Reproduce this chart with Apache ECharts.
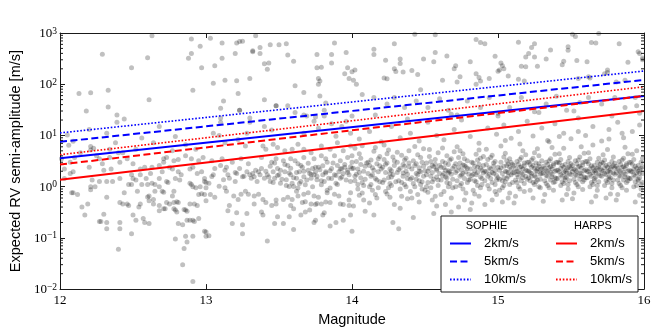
<!DOCTYPE html>
<html>
<head>
<meta charset="utf-8">
<script src="https://cdn.jsdelivr.net/npm/echarts@6/dist/echarts.min.js"></script>
<style>html,body{margin:0;padding:0;background:#fff}#c{width:664px;height:332px}</style>
</head>
<body>
<div id="c"></div>
<script>
// ---------- data ----------
const xTicks = [12, 13, 14, 15, 16];
const lineMags = [12, 16];
const sophie2 = [3.6, 59];
const sophie5 = [7.5, 121];
const sophie10 = [11.2, 181];
const harps2 = [1.37, 30];
const harps5 = [2.7, 59];
const harps10 = [4.2, 89];
const legendLabels = {S2:'2km/s', S5:'5km/s', S10:'10km/s', H2:'2km/s', H5:'5km/s', H10:'10km/s'};

const starsHigh = [[12.63,880],[12.29,385],[12.60,330],[12.49,210],[12.13,66],[12.21,68],[12.33,76],[12.18,30],[12.33,36],[12.39,25],[12.44,21],[12.39,18],[12.61,50],[12.90,760],[12.96,550],[12.90,400],[12.88,320],[13.03,790],[12.97,210],[13.06,230],[12.91,76],[13.11,640],[13.11,320],[13.05,105],[13.13,120],[13.21,640],[13.23,680],[13.25,690],[13.20,400],[13.21,117],[13.22,66],[13.12,47],[13.10,34],[13.23,31],[13.30,130],[13.34,880],[13.37,520],[13.32,430],[13.32,450],[13.37,400],[13.44,590],[13.50,590],[13.55,620],[13.40,250],[13.43,260],[13.42,195],[13.40,50],[13.56,370],[13.60,280],[13.61,93],[13.67,69],[13.76,210],[13.79,215],[13.77,130],[13.78,115],[13.77,100],[13.76,380],[13.86,380],[13.86,260],[13.88,640],[13.96,415],[13.95,160],[13.97,210],[13.98,130],[14.0,175],[13.78,59],[13.82,43],[13.81,31],[13.75,23],[13.67,25],[13.48,38],
[14.29,620],[14.15,480],[14.15,380],[14.23,295],[14.33,310],[14.33,255],[14.43,950],[14.57,920],[14.49,310],[14.56,275],[14.57,415],[14.65,355],[14.29,200],[14.30,178],[14.35,173],[14.41,186],[14.45,155],[14.22,132],[14.24,128],[14.47,78],[14.62,120],[14.72,110],[14.74,140],[14.70,200],[14.71,230],[14.85,750],[14.88,650],[14.91,620],[14.81,275],[14.85,160],[14.87,135],[14.88,115],[14.85,100],[14.94,130],[14.98,350],[15.02,260],[15.03,230],[15.04,200],[15.0,180],[15.01,190],[15.07,145],[15.14,660],[15.21,400],[15.23,520],[15.25,620],[15.19,340],[15.25,340],[15.16,225],[15.19,220],[15.27,225],[15.14,125],[15.18,115],[15.36,465],[15.33,310],[15.44,240],[15.45,280],[15.48,540],[15.48,460],[15.53,850],[15.51,950],[15.54,290],[15.55,130],[15.63,132],[15.62,140],[15.64,650],[15.67,640],[15.69,980],[15.61,275],[15.75,190],[15.75,170],[15.73,160],[15.83,620],[15.89,270],[15.96,430],[15.97,400],[15.99,325],[15.99,300],[15.87,120],[15.81,110],[14.02,190],[14.01,120],[14.03,100]];

const starsNearLines = [[13.10,22],[13.10,18],[13.23,31],[13.30,22],[13.30,18],[13.40,15],[13.48,38],[13.56,38],[13.61,28],[13.69,24],[13.74,19],[13.81,24],[13.86,17],[13.93,15],[13.96,19],[14.0,24],[13.05,11],[12.68,15],
[14.07,63],[14.15,55],[14.24,41],[14.29,55],[14.36,35],[14.44,47],[14.52,35],[14.6,52],[14.66,31],[14.72,25],[14.79,47],[14.88,35],[14.94,55],[15.0,27],[15.08,35],[15.16,55],[15.25,29],[15.33,41],[15.4,58],[15.47,31],[15.56,44],[15.62,55],[15.71,41],[15.8,55],[15.87,35],[15.94,55],[15.97,27],
[14.05,8.5],[14.12,12],[14.2,7.5],[14.27,15],[14.33,9.0],[14.4,11],[14.46,7.8],[14.52,18],[14.58,10],[14.63,8.2],[14.7,13],[14.75,20],[14.81,9.5],[14.87,7.0],[14.93,14],[14.99,10.5],[15.04,16],[15.09,8.8],[15.14,12],[15.2,19],[15.24,9.8],[15.3,14],[15.34,8.0],[15.39,17],[15.45,11],[15.5,8.6],[15.55,22],[15.6,10],[15.65,15],[15.71,7.8],[15.76,13],[15.82,18],[15.86,9.0],[15.92,12],[15.97,16],[14.16,25],[14.38,21],[14.68,26],[15.0,24],[15.28,28],[15.52,30],[15.78,24],[15.95,38]];

const stars12 = [[12.21,6.1],[12.23,5.6],[12.21,5.2],[12.06,6.4],[12.34,5.4],[12.40,4.6],[12.43,4.6],[12.46,3.5],[12.10,3.7],[12.07,3.0],[12.20,2.4],[12.29,2.8],[12.30,2.1],[12.35,2.2],[12.03,1.45],[12.07,1.8],[12.09,1.95],[12.22,1.35],[12.21,1.0],[12.24,1.0],[12.27,1.26],[12.32,1.26],[12.36,1.26],[12.41,1.45],[12.49,1.7],[12.50,1.45],[12.49,1.1],[12.52,1.35],[12.55,1.7],[12.59,1.45],[12.62,1.8],[12.63,2.4],[12.68,2.6],[12.71,3.0],[12.73,3.7],[12.71,3.5],[12.70,1.95],[12.68,1.45],[12.73,1.26],[12.74,1.2],[12.70,0.81],[12.71,0.78],[12.78,0.81],[12.77,0.66],[12.73,0.49],[12.72,0.37],[12.68,0.34],[12.64,0.46],[12.61,0.53],[12.55,0.46],[12.54,0.40],[12.57,0.24],[12.58,0.2],[12.61,0.19],[12.52,0.22],[12.50,0.28],[12.47,0.43],[12.46,0.46],[12.43,0.46],[12.41,0.49],[12.49,0.12],[12.41,0.2],[12.41,0.15],[12.32,0.2],[12.32,0.15],[12.27,0.21],[12.28,0.21],[12.30,0.29],[12.19,0.46],[12.15,0.40],[12.17,0.28],[12.32,0.62],[12.08,0.76],[12.09,0.76],[12.12,0.7],[12.21,0.87],[12.40,0.06],[12.79,0.095],[12.86,0.107],[12.87,0.083],[12.85,0.062],[12.84,0.030],[12.91,0.014],[12.91,0.107],[12.99,0.134],[13.0,0.107],[12.81,0.19],[12.84,0.18],[12.87,0.22],[12.89,0.22],[12.91,0.22],[12.92,0.21],[12.95,0.24],[12.79,0.35],[12.80,0.32],[12.78,0.37],[12.85,0.36],[12.87,0.33],[12.86,0.35],[12.78,0.49],[12.80,0.51],[12.81,0.49],[12.75,0.46],[12.71,0.37],[12.68,0.43],[12.89,0.46],[12.92,0.46],[12.94,0.43],[12.95,0.7],[12.97,0.73],[12.99,0.7],[12.91,1.0],[12.93,0.95],[12.96,1.0],[12.89,1.17],[12.90,1.1],[12.99,1.26],[13.0,1.2],[12.99,1.45],[12.94,1.8],[12.97,1.95],[12.89,2.2],[12.91,2.4],[12.95,3.2],[12.90,3.5],[12.86,4.0],[12.81,3.4],[12.78,3.2],[12.75,2.4],[12.77,2.2],[12.81,1.95],[12.83,1.7],[12.79,1.45],[12.82,1.35],[12.63,1.17],[12.65,1.1],[12.56,1.1],[12.60,1.1],[12.47,1.1],[12.44,0.76],[12.53,0.81],[12.60,0.63],[12.61,0.66],[12.64,0.56],[12.65,0.81],[12.68,1.0],[12.55,2.2],[12.58,2.4],[12.50,2.8],[12.41,3.0],[12.34,3.7],[12.27,3.5],[12.25,4.0],[12.14,4.6],[12.03,2.2],[12.01,3.5],[12.05,10.2],[12.09,7.7],[12.20,13],[12.32,11],[12.56,8.9],[12.64,7.2],[12.79,9.5],[12.86,6.6],[12.93,5.4],[12.77,5.0],[12.52,5.4],[12.38,7.2],[12.98,3.7]];

const stars13 = [[13.42,0.087],[13.25,0.12],[13.02,0.11],[13.0,0.13],[13.6,0.145],[14.0,0.134],[13.85,0.17],[13.18,0.19],[13.25,0.18],[13.47,0.19],[13.53,0.19],[13.57,0.26],[13.49,0.26],[13.39,0.28],[13.38,0.32],[13.28,0.3],[13.15,0.34],[13.16,0.43],[13.21,0.31],[13.74,0.2],[13.75,0.22],[13.8,0.28],[13.81,0.31],[13.89,0.2],[13.94,0.22],[13.99,0.28],[13.68,0.32],[13.71,0.35],[13.65,0.28],[13.58,0.43],[13.6,0.37],[13.66,0.49],[13.68,0.51],[13.72,0.46],[13.75,0.45],[13.76,0.47],[13.79,0.46],[13.82,0.5],[13.85,0.49],[13.92,0.46],[13.94,0.45],[13.98,0.43],[13.0,0.53],[13.06,0.62],[13.0,0.95],[13.03,0.7],[13.04,1.58],[13.02,1.17],[13.09,1.02],[13.13,0.95],[13.14,0.81],[13.19,0.66],[13.22,0.56],[13.24,0.71],[13.27,0.81],[13.29,0.71],[13.33,0.66],[13.36,0.71],[13.39,0.56],[13.33,0.46],[13.41,0.49],[13.45,0.43],[13.48,0.46],[13.48,0.55],[13.53,0.56],[13.56,0.62],[13.59,0.56],[13.63,0.66],[13.62,0.81],[13.67,0.71],[13.7,0.76],[13.74,0.66],[13.77,0.62],[13.83,0.76],[13.88,0.71],[13.91,0.66],[13.98,0.55],[13.99,0.76],
[13.06,2.25],[13.1,2.6],[13.13,2.1],[13.15,1.7],[13.12,1.36],[13.16,1.46],[13.2,1.26],[13.21,1.8],[13.23,2.25],[13.25,1.57],[13.28,1.95],[13.3,1.7],[13.31,1.46],[13.32,1.8],[13.33,1.57],[13.35,1.26],[13.36,1.95],[13.37,1.7],[13.38,2.25],[13.4,1.46],[13.42,1.7],[13.44,1.26],[13.46,1.95],[13.47,1.46],[13.49,2.25],[13.5,1.7],[13.51,1.17],[13.54,1.95],[13.55,1.36],[13.56,2.6],[13.57,1.01],[13.58,1.7],[13.59,1.17],[13.6,1.01],[13.62,1.46],[13.63,0.94],[13.64,1.95],[13.65,1.26],[13.66,2.4],[13.67,1.57],[13.68,1.09],[13.7,2.1],[13.71,1.8],[13.72,1.46],[13.73,2.25],[13.74,1.7],[13.75,1.95],[13.76,1.36],[13.77,2.4],[13.79,1.09],[13.8,1.7],[13.81,1.26],[13.82,1.95],[13.83,3.0],[13.84,1.46],[13.85,0.94],[13.86,2.25],[13.88,1.7],[13.89,1.17],[13.9,2.6],[13.91,1.95],[13.92,1.46],[13.93,2.25],[13.94,1.8],[13.95,2.4],[13.97,2.1],[13.98,1.7],[13.99,1.26],[14.0,3.0],[14.0,2.25],
[13.04,3.2],[13.11,3.5],[13.18,3.0],[13.24,3.5],[13.29,2.8],[13.38,3.7],[13.45,3.0],[13.48,3.5],[13.53,3.2],[13.58,3.5],[13.63,2.8],[13.67,3.7],[13.74,3.5],[13.79,4.0],[13.82,3.5],[13.88,4.0],[13.92,3.2],[13.97,3.7],[14.0,4.0],
[13.27,6.2],[13.39,6.2],[13.41,5.4],[13.46,6.7],[13.49,5.8],[13.54,5.0],[13.59,5.4],[13.63,6.7],[13.67,5.4],[13.72,4.6],[13.79,6.2],[13.85,5.4],[13.9,7.2],[13.94,5.0],[13.99,6.2],
[13.09,10],[13.13,7.2],[13.22,8.3],[13.28,11],[13.45,12.8],[13.67,11],[13.77,13.8],[13.89,9.6],[13.99,11],
[13.41,2.0],[13.43,1.55],[13.44,2.5],[13.46,1.2],[13.47,2.9],[13.49,1.65],[13.51,2.1],[13.52,1.4],[13.54,2.7],[13.55,1.05],[13.57,1.85],[13.58,2.3],[13.6,1.5],[13.61,3.2],[13.62,1.9],[13.64,1.15],[13.65,2.6],[13.67,2.0],[13.69,1.35],[13.7,2.85],[13.72,1.75],[13.73,1.0],[13.75,2.4],[13.76,1.6],[13.78,2.15],[13.79,1.3],[13.8,2.55],[13.82,1.85],[13.83,0.85],[13.85,2.05],[13.86,1.45],[13.87,2.9],[13.89,1.65],[13.9,1.1],[13.92,2.2],[13.93,1.55],[13.95,2.7],[13.96,1.35],[13.97,1.9],[13.99,2.45],[13.2,1.9],[13.14,2.4],[13.26,1.6],[13.34,2.1],[13.05,1.7]];

const stars14 = [[14.01,2.3],[14.02,1.6],[14.03,3.1],[14.04,0.9],[14.05,1.9],[14.05,4.4],[14.06,2.7],[14.07,1.2],[14.08,0.55],[14.08,2.0],[14.09,1.4],[14.02,5.6],[14.04,1.1],[14.06,3.6],[14.07,0.75],[14.09,2.5],[14.03,1.75],[14.08,1.05],[14.01,0.42],[14.06,1.5],[14.1,2.9],[14.04,2.2],[14.07,6.3],[14.09,0.33],[14.02,1.3],[14.05,0.68],
[14.11,1.8],[14.12,2.6],[14.13,1.1],[14.13,3.3],[14.14,0.85],[14.15,2.1],[14.15,4.9],[14.16,1.45],[14.17,2.8],[14.17,0.6],[14.18,1.95],[14.19,1.25],[14.19,3.9],[14.12,0.48],[14.14,2.35],[14.16,5.8],[14.18,0.95],[14.11,3.0],[14.13,1.6],[14.2,2.2],[14.15,0.28],[14.17,1.35],[14.19,2.55],[14.12,1.0],[14.16,0.7],[14.14,1.7],[14.18,3.5],
[14.21,2.4],[14.21,1.2],[14.22,3.4],[14.23,0.8],[14.23,1.9],[14.24,2.9],[14.25,1.5],[14.25,5.2],[14.26,0.62],[14.26,2.2],[14.27,1.05],[14.28,3.8],[14.28,1.7],[14.29,2.6],[14.29,0.45],[14.22,1.35],[14.24,4.4],[14.26,1.8],[14.27,2.05],[14.3,1.25],[14.23,2.75],[14.25,0.95],[14.28,0.2],[14.22,6.5],[14.27,1.55],[14.29,3.2],[14.24,0.72],[14.26,1.15],
[14.31,1.9],[14.31,3.0],[14.32,1.3],[14.33,2.3],[14.33,0.9],[14.34,4.1],[14.35,1.6],[14.35,2.7],[14.36,1.1],[14.37,2.0],[14.37,3.6],[14.38,0.58],[14.38,1.45],[14.39,2.45],[14.39,5.0],[14.32,2.15],[14.34,1.2],[14.36,3.3],[14.38,1.75],[14.4,0.8],[14.33,0.38],[14.35,1.85],[14.37,1.0],[14.39,2.9],[14.31,4.7],[14.34,0.65],[14.36,2.5],[14.4,1.4],[14.32,0.15],
[14.41,2.2],[14.41,1.5],[14.42,3.2],[14.43,1.0],[14.43,2.6],[14.44,1.8],[14.45,0.7],[14.45,4.2],[14.46,1.3],[14.46,2.35],[14.47,1.95],[14.48,3.0],[14.48,0.9],[14.49,1.6],[14.49,5.5],[14.42,1.15],[14.44,2.8],[14.46,0.5],[14.47,3.7],[14.5,2.05],[14.42,0.25],[14.44,1.4],[14.47,1.1],[14.49,2.5],[14.43,6.1],[14.45,1.7],[14.48,1.25],[14.41,0.6],[14.46,2.0],[14.5,0.85],
[14.51,1.7],[14.51,2.9],[14.52,1.2],[14.53,2.3],[14.53,3.9],[14.54,0.95],[14.55,1.9],[14.55,2.6],[14.56,1.4],[14.57,3.4],[14.57,0.65],[14.58,2.1],[14.58,1.55],[14.59,4.6],[14.59,1.05],[14.52,2.0],[14.54,1.6],[14.56,2.45],[14.58,0.42],[14.6,1.8],[14.53,5.3],[14.55,1.25],[14.57,2.75],[14.59,1.35],[14.52,0.78],[14.54,3.1],[14.56,0.3],[14.58,2.2],[14.51,1.0],[14.6,2.6],[14.55,0.55],
[14.61,2.4],[14.61,1.35],[14.62,3.1],[14.63,1.8],[14.63,0.8],[14.64,2.1],[14.65,4.0],[14.65,1.5],[14.66,2.7],[14.67,1.15],[14.67,1.95],[14.68,3.5],[14.68,0.6],[14.69,2.25],[14.69,1.4],[14.62,1.65],[14.64,2.9],[14.66,1.0],[14.68,1.75],[14.7,2.5],[14.62,5.7],[14.64,0.45],[14.66,1.85],[14.67,3.3],[14.69,0.95],[14.63,2.35],[14.65,1.2],[14.7,4.8],[14.61,0.7],[14.66,2.05],[14.68,0.32],[14.64,1.55],
[14.71,1.9],[14.71,2.8],[14.72,1.3],[14.73,2.4],[14.73,3.7],[14.74,1.05],[14.75,1.7],[14.75,2.15],[14.76,4.4],[14.77,1.45],[14.77,2.6],[14.78,0.75],[14.78,1.95],[14.79,3.2],[14.79,1.2],[14.72,2.05],[14.74,1.6],[14.76,0.9],[14.78,2.45],[14.8,1.35],[14.72,6.0],[14.74,2.9],[14.76,1.8],[14.77,0.55],[14.79,2.3],[14.73,0.4],[14.75,1.15],[14.77,3.5],[14.8,1.75],[14.71,1.0],[14.76,2.65],[14.79,0.22],[14.74,5.0],
[14.81,2.2],[14.81,1.4],[14.82,3.0],[14.83,1.75],[14.83,0.85],[14.84,2.5],[14.85,1.25],[14.85,4.3],[14.86,1.9],[14.87,2.75],[14.87,0.65],[14.88,1.55],[14.88,3.6],[14.89,2.1],[14.89,1.1],[14.82,1.65],[14.84,2.05],[14.86,3.3],[14.88,0.95],[14.9,1.85],[14.82,0.48],[14.84,1.3],[14.86,2.4],[14.87,5.2],[14.89,1.45],[14.83,2.9],[14.85,1.7],[14.9,2.6],[14.81,0.36],[14.86,1.05],[14.88,2.3],[14.84,0.72],[14.9,3.9],
[14.91,2.0],[14.91,1.3],[14.92,2.7],[14.93,1.6],[14.93,3.4],[14.94,0.9],[14.95,2.2],[14.95,1.45],[14.96,4.1],[14.97,1.8],[14.97,2.5],[14.98,1.1],[14.98,3.1],[14.99,1.65],[14.99,0.7],[14.92,1.95],[14.94,2.35],[14.96,1.2],[14.98,2.05],[15.0,1.5],[14.92,5.4],[14.94,1.75],[14.96,0.55],[14.97,2.9],[14.99,1.35],[14.93,1.05],[14.95,3.7],[15.0,2.4],[14.91,0.45],[14.96,1.9],[14.98,0.8]];

const stars15 = [[15.01,2.1],[15.01,1.4],[15.02,3.0],[15.03,1.8],[15.03,0.95],[15.04,2.5],[15.05,1.25],[15.05,4.5],[15.06,1.95],[15.07,2.8],[15.07,1.6],[15.08,3.5],[15.08,1.1],[15.09,2.2],[15.09,1.7],[15.02,2.35],[15.04,1.5],[15.06,3.2],[15.08,0.75],[15.1,1.85],[15.02,6.2],[15.04,1.05],[15.06,2.6],[15.07,0.6],[15.09,2.95],[15.03,1.3],[15.05,2.0],[15.1,2.7],[15.01,0.85],[15.06,1.45],[15.08,2.4],[15.04,3.8],[15.1,1.2],[15.03,0.5],[15.07,1.9],[15.05,8.0],
[15.11,1.9],[15.11,2.6],[15.12,1.35],[15.13,3.1],[15.13,2.0],[15.14,1.55],[15.15,2.4],[15.15,0.9],[15.16,3.7],[15.17,1.75],[15.17,2.2],[15.18,1.15],[15.18,2.9],[15.19,1.6],[15.19,4.2],[15.12,2.25],[15.14,1.0],[15.16,1.85],[15.18,2.55],[15.2,1.4],[15.12,0.65],[15.14,2.75],[15.16,1.3],[15.17,5.0],[15.19,2.1],[15.13,1.7],[15.15,3.4],[15.2,2.05],[15.11,0.48],[15.16,2.45],[15.18,0.8],[15.14,1.95],[15.2,3.0],[15.13,1.2],[15.17,1.5],[15.15,6.8],
[15.21,2.0],[15.21,1.5],[15.22,2.7],[15.23,1.8],[15.23,3.3],[15.24,1.2],[15.25,2.3],[15.25,1.65],[15.26,2.9],[15.27,1.95],[15.27,1.35],[15.28,2.5],[15.28,4.0],[15.29,1.75],[15.29,2.15],[15.22,1.9],[15.24,2.6],[15.26,1.55],[15.28,1.0],[15.3,2.2],[15.22,0.85],[15.24,3.6],[15.26,2.05],[15.27,5.5],[15.29,1.4],[15.23,2.4],[15.25,1.1],[15.3,1.8],[15.21,3.0],[15.26,1.25],[15.28,2.8],[15.24,0.6],[15.3,3.2],[15.23,1.6],[15.27,2.25],[15.25,4.6],[15.29,0.95],[15.22,1.3],
[15.31,1.85],[15.31,2.5],[15.32,1.3],[15.33,3.0],[15.33,2.05],[15.34,1.6],[15.35,2.35],[15.35,0.95],[15.36,3.5],[15.37,1.75],[15.37,2.2],[15.38,1.2],[15.38,2.8],[15.39,1.5],[15.39,4.3],[15.32,2.3],[15.34,1.05],[15.36,1.9],[15.38,2.6],[15.4,1.45],[15.32,0.7],[15.34,2.7],[15.36,1.35],[15.37,5.8],[15.39,2.0],[15.33,1.65],[15.35,3.2],[15.4,2.1],[15.31,0.52],[15.36,2.45],[15.38,0.85],[15.34,1.95],[15.4,3.0],[15.33,1.15],[15.37,1.55],[15.35,7.5],[15.39,1.25],
[15.41,2.1],[15.41,1.45],[15.42,2.9],[15.43,1.7],[15.43,3.4],[15.44,1.25],[15.45,2.4],[15.45,1.9],[15.46,2.7],[15.47,1.55],[15.47,2.15],[15.48,3.1],[15.48,1.1],[15.49,1.8],[15.49,2.5],[15.42,1.95],[15.44,2.6],[15.46,1.35],[15.48,0.9],[15.5,2.25],[15.42,4.4],[15.44,1.6],[15.46,2.0],[15.47,0.7],[15.49,3.7],[15.43,2.3],[15.45,1.15],[15.5,1.7],[15.41,3.0],[15.46,1.5],[15.48,2.35],[15.44,0.55],[15.5,2.8],[15.43,1.05],[15.47,1.85],[15.45,5.6],[15.49,1.3],[15.42,9.5],
[15.51,1.95],[15.51,2.6],[15.52,1.4],[15.53,3.2],[15.53,2.1],[15.54,1.65],[15.55,2.45],[15.55,1.0],[15.56,3.8],[15.57,1.8],[15.57,2.3],[15.58,1.25],[15.58,2.95],[15.59,1.55],[15.59,4.5],[15.52,2.2],[15.54,1.1],[15.56,1.85],[15.58,2.65],[15.6,1.5],[15.52,0.75],[15.54,2.8],[15.56,1.4],[15.57,6.0],[15.59,2.05],[15.53,1.7],[15.55,3.3],[15.6,2.15],[15.51,0.58],[15.56,2.5],[15.58,0.88],[15.54,2.0],[15.6,3.1],[15.53,1.2],[15.57,1.6],[15.55,12],[15.59,1.35],
[15.61,2.0],[15.61,1.5],[15.62,2.8],[15.63,1.75],[15.63,3.5],[15.64,1.2],[15.65,2.35],[15.65,1.9],[15.66,2.6],[15.67,1.55],[15.67,2.1],[15.68,3.0],[15.68,1.05],[15.69,1.8],[15.69,2.45],[15.62,1.95],[15.64,2.55],[15.66,1.3],[15.68,0.85],[15.7,2.2],[15.62,4.6],[15.64,1.6],[15.66,2.05],[15.67,0.65],[15.69,3.6],[15.63,2.25],[15.65,1.1],[15.7,1.65],[15.61,3.1],[15.66,1.45],[15.68,2.3],[15.64,0.5],[15.7,2.75],[15.63,1.0],[15.67,1.85],[15.65,6.5],[15.69,1.25],
[15.71,2.1],[15.71,1.6],[15.72,2.9],[15.73,1.8],[15.73,3.3],[15.74,1.3],[15.75,2.4],[15.75,1.95],[15.76,2.7],[15.77,1.5],[15.77,2.2],[15.78,3.1],[15.78,1.15],[15.79,1.85],[15.79,2.55],[15.72,2.0],[15.74,2.6],[15.76,1.4],[15.78,0.95],[15.8,2.3],[15.72,4.2],[15.74,1.7],[15.76,2.05],[15.77,0.72],[15.79,3.8],[15.73,2.35],[15.75,1.2],[15.8,1.75],[15.71,3.0],[15.76,1.55],[15.78,2.45],[15.74,0.6],[15.8,2.85],[15.73,1.05],[15.77,1.9],[15.75,5.3],[15.79,1.35],[15.76,8.5],
[15.81,1.9],[15.81,2.5],[15.82,1.35],[15.83,3.1],[15.83,2.05],[15.84,1.6],[15.85,2.4],[15.85,0.95],[15.86,3.6],[15.87,1.75],[15.87,2.25],[15.88,1.2],[15.88,2.8],[15.89,1.5],[15.89,4.4],[15.82,2.3],[15.84,1.05],[15.86,1.9],[15.88,2.6],[15.9,1.45],[15.82,0.7],[15.84,2.7],[15.86,1.35],[15.87,5.9],[15.89,2.0],[15.83,1.65],[15.85,3.3],[15.9,2.1],[15.81,0.55],[15.86,2.45],[15.88,0.85],[15.84,1.95],[15.9,3.0],[15.83,1.15],[15.87,1.55],[15.85,11],[15.89,1.3],
[15.91,2.0],[15.91,1.45],[15.92,2.75],[15.93,1.7],[15.93,3.4],[15.94,1.25],[15.95,2.3],[15.95,1.85],[15.96,2.6],[15.97,1.5],[15.97,2.15],[15.98,3.0],[15.98,1.1],[15.99,1.8],[15.99,2.45],[15.92,1.95],[15.94,2.5],[15.96,1.3],[15.98,0.9],[15.92,4.3],[15.94,1.6],[15.96,2.0],[15.97,0.68],[15.99,3.6],[15.93,2.2],[15.95,1.05],[15.91,2.95],[15.96,1.4],[15.98,2.3],[15.94,0.5],[15.93,1.0],[15.97,1.8],[15.95,5.0],[15.99,1.2]];

// ---------- chart ----------
const allStars = [].concat(starsHigh, starsNearLines, stars12, stars13, stars14, stars15);
const minorTicks = [];
for (let d = -2; d < 3; d++) for (let k = 2; k <= 9; k++) minorTicks.push([12, k * Math.pow(10, d)]);

const sans = 'Liberation Sans';
const serif = 'Liberation Serif';
const frame = '#1a1a1a';

function mkLine(name, vals, color, type, width) {
  return {
    name: name, type: 'line', symbol: 'none', showSymbol: false, silent: true, z: 5,
    data: lineMags.map((m, i) => [m, vals[i]]),
    lineStyle: {color: color, type: type, width: width},
    itemStyle: {color: color}
  };
}

function mkLegend(names, left) {
  return {
    data: names, orient: 'vertical', left: left, top: 237, padding: 0,
    itemWidth: 21, itemHeight: 14, itemGap: 5, z: 120, selectedMode: false,
    itemStyle: {opacity: 0, borderWidth: 0},
    formatter: n => legendLabels[n],
    textStyle: {fontFamily: sans, fontSize: 13, color: '#000', padding: [0, 0, 0, 8]}
  };
}

const chart = echarts.init(document.getElementById('c'), null, {renderer: 'canvas'});
chart.setOption({
  animation: false,
  backgroundColor: '#fff',
  grid: {left: 53, right: 20, top: 33, bottom: 34, containLabel: false},
  xAxis: [{
    type: 'value', min: 12, max: 16, interval: 1, position: 'bottom',
    name: 'Magnitude', nameLocation: 'middle', nameGap: 18,
    nameTextStyle: {fontFamily: sans, fontSize: 14.5, color: '#000'},
    axisLine: {show: true, lineStyle: {color: frame, width: 1}},
    axisTick: {show: true, inside: true, length: 5, lineStyle: {color: frame}},
    axisLabel: {fontFamily: serif, fontSize: 13, color: '#000', margin: 5, showMinLabel: true, showMaxLabel: true},
    splitLine: {show: false}
  }, {
    type: 'value', min: 12, max: 16, interval: 1, position: 'top',
    axisLine: {show: true, onZero: false, lineStyle: {color: frame, width: 1}},
    axisTick: {show: true, inside: true, length: 5, lineStyle: {color: frame}},
    axisLabel: {show: false}, splitLine: {show: false}
  }],
  yAxis: [{
    type: 'log', logBase: 10, min: 0.01, max: 1000, splitNumber: 5, position: 'left',
    name: 'Expected RV semi-amplitude [m/s]', nameLocation: 'middle', nameGap: 35,
    nameTextStyle: {fontFamily: sans, fontSize: 14.5, color: '#000'},
    axisLine: {show: true, lineStyle: {color: frame, width: 1}},
    axisTick: {show: true, inside: true, length: 5, lineStyle: {color: frame}},
    axisLabel: {
      margin: 3, showMinLabel: true, showMaxLabel: true,
      formatter: function (v) {
        const e = Math.round(Math.log10(v));
        return '{b|10}{s|' + (e < 0 ? '\u2212' + (-e) : e) + '}';
      },
      rich: {
        b: {fontFamily: serif, fontSize: 13, color: '#000', lineHeight: 14, verticalAlign: 'bottom'},
        s: {fontFamily: serif, fontSize: 9.5, color: '#000', lineHeight: 10, verticalAlign: 'top'}
      }
    },
    splitLine: {show: false}
  }, {
    type: 'log', logBase: 10, min: 0.01, max: 1000, splitNumber: 5, position: 'right',
    axisLine: {show: true, onZero: false, lineStyle: {color: frame, width: 1}},
    axisTick: {show: true, inside: true, length: 5, lineStyle: {color: frame}},
    axisLabel: {show: false}, splitLine: {show: false}
  }],
  legend: [mkLegend(['S2', 'S5', 'S10'], 449), mkLegend(['H2', 'H5', 'H10'], 555)],
  graphic: [{
    type: 'rect', z: 100, silent: true,
    shape: {x: 441, y: 216, width: 197, height: 76},
    style: {fill: '#fff', stroke: frame, lineWidth: 1}
  }, {
    type: 'text', z: 101, silent: true, x: 486.5, y: 226,
    style: {text: 'SOPHIE', fontFamily: sans, fontSize: 11, fill: '#000', align: 'center', verticalAlign: 'middle'}
  }, {
    type: 'text', z: 101, silent: true, x: 593, y: 226,
    style: {text: 'HARPS', fontFamily: sans, fontSize: 11, fill: '#000', align: 'center', verticalAlign: 'middle'}
  }],
  series: [{
    type: 'scatter', name: 'stars', data: allStars, symbolSize: 5, silent: true, z: 2,
    itemStyle: {color: 'rgba(0,0,0,0.31)', borderWidth: 0}
  },
  mkLine('S2', sophie2, '#0000ff', 'solid', 2),
  mkLine('S5', sophie5, '#0000ff', [7, 3.5], 2),
  mkLine('S10', sophie10, '#0000ff', [1.6, 1.8], 1.6),
  mkLine('H2', harps2, '#ff0000', 'solid', 2),
  mkLine('H5', harps5, '#ff0000', [7, 3.5], 2),
  mkLine('H10', harps10, '#ff0000', [1.6, 1.8], 1.6),
  {
    type: 'custom', name: 'minor', silent: true, z: 6, data: minorTicks, clip: false,
    renderItem: function (params, api) {
      const y = api.coord([12, api.value(1)])[1];
      const cs = params.coordSys;
      const st = {stroke: frame, lineWidth: 1};
      return {type: 'group', children: [
        {type: 'line', shape: {x1: cs.x, y1: y, x2: cs.x + 3, y2: y}, style: st},
        {type: 'line', shape: {x1: cs.x + cs.width - 3, y1: y, x2: cs.x + cs.width, y2: y}, style: st}
      ]};
    }
  }]
});
</script>
</body>
</html>
